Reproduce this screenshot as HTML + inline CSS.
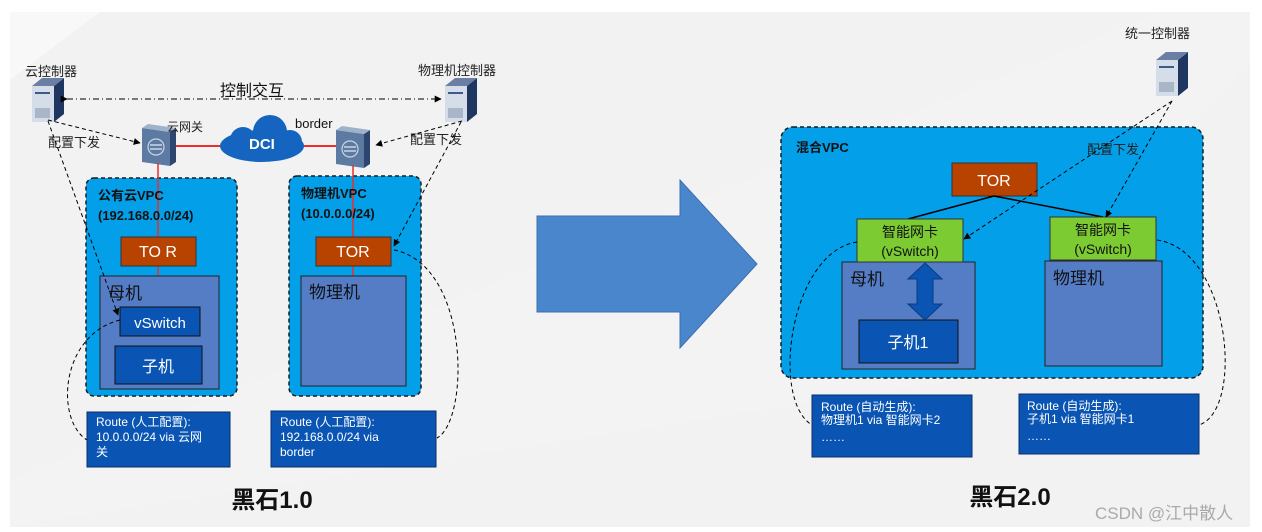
<!DOCTYPE html>
<html><head><meta charset="utf-8"><style>
html,body{margin:0;padding:0;background:#fff;}
svg{display:block;}
text{font-family:"Liberation Sans","Noto Sans CJK SC",sans-serif;}
</style></head><body>
<svg width="1262" height="532" viewBox="0 0 1262 532" xmlns="http://www.w3.org/2000/svg">
<defs>
<marker id="ah" viewBox="0 0 10 10" refX="9" refY="5" markerWidth="7" markerHeight="7" orient="auto"><path d="M0,0L10,5L0,10z" fill="#000"/></marker>
<g id="srv">
<polygon points="0,8 22,8 22,44 0,44" fill="#d5dde8"/>
<polygon points="22,8 32,0 32,36 22,44" fill="#1f3660"/>
<polygon points="0,8 10,0 32,0 22,8" fill="#6a7fa3"/>
<rect x="3" y="14" width="15" height="2" fill="#3c5a8a"/>
<rect x="3" y="30" width="15" height="10" fill="#a9b6c8"/>
</g>
<g id="sw">
<polygon points="0,4 28,8 28,42 0,38" fill="#5d7aa3"/>
<polygon points="28,8 34,4 34,38 28,42" fill="#2c4670"/>
<polygon points="0,4 6,0 34,4 28,8" fill="#9fb2cc"/>
<circle cx="14" cy="23" r="8" fill="none" stroke="#c9d6e8" stroke-width="1.2"/>
<path d="M8,21h12M8,25h12" stroke="#e0e8f2" stroke-width="1.2"/>
</g>
</defs>
<rect x="10" y="12" width="1240" height="515" fill="#f2f2f2"/>
<polygon points="10,12 100,12 10,80" fill="#f8f8f8"/>
<polygon points="1160,12 1250,12 1250,60 960,380 10,527 10,480" fill="#f4f4f4" opacity="0.5"/>

<!-- LEFT -->
<text x="25" y="76" font-size="13" fill="#222">云控制器</text>
<text x="418" y="75" font-size="13" fill="#222">物理机控制器</text>
<use href="#srv" x="32" y="78"/>
<use href="#srv" x="445" y="78"/>
<text x="220" y="96" font-size="16" fill="#111">控制交互</text>
<line x1="67" y1="99" x2="441" y2="99" stroke="#000" stroke-width="1" stroke-dasharray="6,3,1,3" marker-start="url(#ah)" marker-end="url(#ah)"/>

<line x1="175" y1="146" x2="222" y2="146" stroke="#e8302c" stroke-width="2"/>
<line x1="303" y1="146" x2="336" y2="146" stroke="#e8302c" stroke-width="2"/>
<g fill="#1565c0">
<ellipse cx="262" cy="146" rx="42" ry="16"/>
<circle cx="270" cy="132" r="17"/>
<circle cx="243" cy="140" r="13"/>
<circle cx="290" cy="142" r="12"/>
</g>
<text x="249" y="149" font-size="15" font-weight="bold" fill="#fff">DCI</text>
<use href="#sw" x="142" y="124"/>
<use href="#sw" x="336" y="126"/>
<text x="167" y="131" font-size="12" fill="#222">云网关</text>
<text x="295" y="128" font-size="13" fill="#111">border</text>
<text x="48" y="147" font-size="13" fill="#222">配置下发</text>
<text x="410" y="144" font-size="13" fill="#222">配置下发</text>
<line x1="48" y1="120" x2="140" y2="143" stroke="#000" stroke-dasharray="4,3" marker-end="url(#ah)"/>
<line x1="462" y1="121" x2="376" y2="145" stroke="#000" stroke-dasharray="4,3" marker-end="url(#ah)"/>

<rect x="86" y="178" width="151" height="218" rx="8" fill="#03a0e9" stroke="#1a1a1a" stroke-width="1.5" stroke-dasharray="4,3"/>
<rect x="289" y="176" width="132" height="220" rx="8" fill="#03a0e9" stroke="#1a1a1a" stroke-width="1.5" stroke-dasharray="4,3"/>
<line x1="158" y1="163" x2="158" y2="276" stroke="#e8302c" stroke-width="1.5"/>
<line x1="353" y1="165" x2="353" y2="276" stroke="#e8302c" stroke-width="1.5"/>
<text x="98" y="200" font-size="13" font-weight="bold" fill="#111">公有云VPC</text>
<text x="98" y="220" font-size="13" font-weight="bold" fill="#111">(192.168.0.0/24)</text>
<text x="301" y="198" font-size="13" font-weight="bold" fill="#111">物理机VPC</text>
<text x="301" y="218" font-size="13" font-weight="bold" fill="#111">(10.0.0.0/24)</text>
<rect x="121" y="237" width="75" height="29" fill="#b84300" stroke="#333"/>
<text x="158" y="257" font-size="16" fill="#fff" text-anchor="middle">TO R</text>
<rect x="316" y="237" width="75" height="29" fill="#b84300" stroke="#333"/>
<text x="353" y="257" font-size="16" fill="#fff" text-anchor="middle">TOR</text>
<rect x="100" y="276" width="119" height="113" fill="#557dc6" stroke="#222"/>
<text x="108" y="299" font-size="17" fill="#111">母机</text>
<rect x="120" y="307" width="80" height="29" fill="#0a55b3" stroke="#111"/>
<text x="160" y="328" font-size="15" fill="#fff" text-anchor="middle">vSwitch</text>
<rect x="115" y="346" width="87" height="38" fill="#0a55b3" stroke="#111"/>
<text x="158" y="372" font-size="16" fill="#fff" text-anchor="middle">子机</text>
<rect x="301" y="276" width="105" height="110" fill="#557dc6" stroke="#222"/>
<text x="309" y="298" font-size="17" fill="#111">物理机</text>

<path d="M48,121 L118,315" stroke="#000" fill="none" stroke-dasharray="4,3" marker-end="url(#ah)"/>
<path d="M461,122 L394,246" stroke="#000" fill="none" stroke-dasharray="4,3" marker-end="url(#ah)"/>
<path d="M120,320 C60,335 55,420 87,440" stroke="#000" fill="none" stroke-dasharray="4,3"/>
<path d="M394,250 C470,265 470,420 437,438" stroke="#000" fill="none" stroke-dasharray="4,3"/>

<rect x="87" y="412" width="143" height="55" fill="#0a55b3" stroke="#0a2e6a"/>
<text font-size="12" fill="#fff"><tspan x="96" y="426">Route (人工配置):</tspan><tspan x="96" y="441">10.0.0.0/24 via 云网</tspan><tspan x="96" y="456">关</tspan></text>
<rect x="271" y="411" width="165" height="56" fill="#0a55b3" stroke="#0a2e6a"/>
<text font-size="12" fill="#fff"><tspan x="280" y="426">Route (人工配置):</tspan><tspan x="280" y="441">192.168.0.0/24 via</tspan><tspan x="280" y="456">border</tspan></text>
<text x="272" y="508" font-size="24" font-weight="bold" fill="#111" text-anchor="middle">黑石1.0</text>

<!-- big arrow -->
<polygon points="537,216 680,216 680,180 757,264 680,348 680,312 537,312" fill="#4a86cc" stroke="#3a70b0"/>

<!-- RIGHT -->
<text x="1125" y="38" font-size="13" fill="#222">统一控制器</text>
<use href="#srv" x="1156" y="52"/>
<rect x="781" y="127" width="422" height="251" rx="12" fill="#03a0e9" stroke="#1a1a1a" stroke-width="1.5" stroke-dasharray="4,3"/>
<text x="796" y="152" font-size="13" font-weight="bold" fill="#111">混合VPC</text>
<rect x="952" y="163" width="85" height="33" fill="#b84300" stroke="#333"/>
<text x="994" y="186" font-size="16" fill="#fff" text-anchor="middle">TOR</text>
<line x1="994" y1="196" x2="908" y2="219" stroke="#000" stroke-width="1.5"/>
<line x1="994" y1="196" x2="1103" y2="217" stroke="#000" stroke-width="1.5"/>
<rect x="842" y="262" width="133" height="107" fill="#557dc6" stroke="#222"/>
<text x="850" y="285" font-size="17" fill="#111">母机</text>
<rect x="859" y="320" width="99" height="43" fill="#0a55b3" stroke="#111"/>
<text x="908" y="348" font-size="16" fill="#fff" text-anchor="middle">子机1</text>
<polygon points="925,263 942,279 933,279 933,304 942,304 925,320 908,304 917,304 917,279 908,279" fill="#0a55b3" stroke="#0a3a80"/>
<rect x="1045" y="261" width="117" height="105" fill="#557dc6" stroke="#222"/>
<text x="1053" y="284" font-size="17" fill="#111">物理机</text>
<rect x="857" y="219" width="106" height="43" fill="#7dcb32" stroke="#333"/>
<text x="910" y="237" font-size="14" fill="#111" text-anchor="middle">智能网卡</text>
<text x="910" y="256" font-size="14" fill="#111" text-anchor="middle">(vSwitch)</text>
<rect x="1050" y="217" width="106" height="43" fill="#7dcb32" stroke="#333"/>
<text x="1103" y="235" font-size="14" fill="#111" text-anchor="middle">智能网卡</text>
<text x="1103" y="254" font-size="14" fill="#111" text-anchor="middle">(vSwitch)</text>
<text x="1087" y="154" font-size="13" fill="#222">配置下发</text>
<line x1="1172" y1="101" x2="964" y2="239" stroke="#000" stroke-dasharray="4,3" marker-end="url(#ah)"/>
<line x1="1172" y1="101" x2="1106" y2="217" stroke="#000" stroke-dasharray="4,3" marker-end="url(#ah)"/>
<path d="M857,242 C790,252 770,400 812,425" stroke="#000" fill="none" stroke-dasharray="4,3"/>
<path d="M1157,240 C1230,250 1245,410 1199,425" stroke="#000" fill="none" stroke-dasharray="4,3"/>
<rect x="812" y="395" width="160" height="62" fill="#0a55b3" stroke="#0a2e6a"/>
<text font-size="12" fill="#fff"><tspan x="821" y="411">Route (自动生成):</tspan><tspan x="821" y="424">物理机1 via 智能网卡2</tspan><tspan x="821" y="441">……</tspan></text>
<rect x="1019" y="394" width="180" height="60" fill="#0a55b3" stroke="#0a2e6a"/>
<text font-size="12" fill="#fff"><tspan x="1027" y="410">Route (自动生成):</tspan><tspan x="1027" y="423">子机1 via 智能网卡1</tspan><tspan x="1027" y="440">……</tspan></text>
<text x="1010" y="505" font-size="24" font-weight="bold" fill="#111" text-anchor="middle">黑石2.0</text>
<text x="1095" y="519" font-size="17" fill="#aaa">CSDN @江中散人</text>
</svg>
</body></html>
